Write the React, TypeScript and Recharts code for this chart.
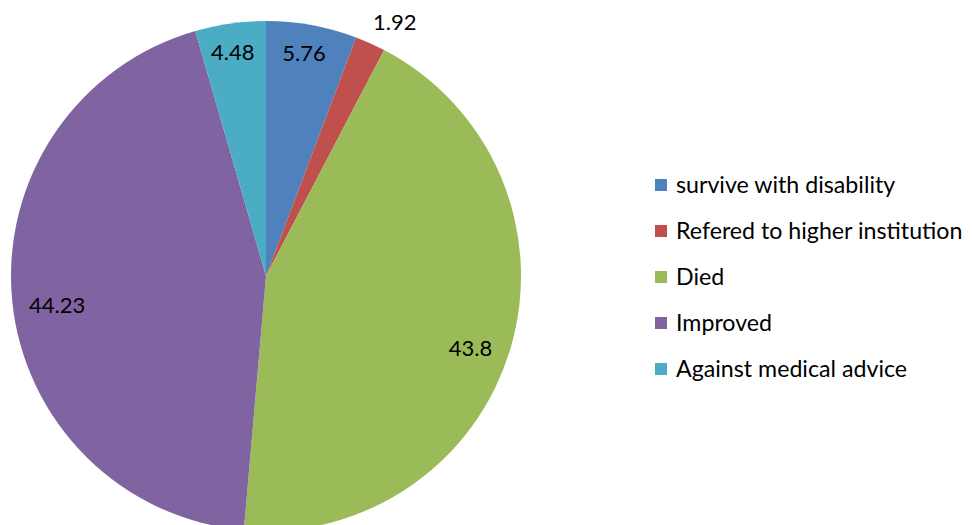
import React from "react";
import { PieChart, Pie, Cell, Legend } from "recharts";

const categories = [
  "survive with disability",
  "Refered to higher institution",
  "Died",
  "Improved",
  "Against medical advice",
];
const values = [5.76, 1.92, 43.8, 44.23, 4.48];
const colors = ["#4F81BD", "#C0504D", "#9BBB59", "#8064A2", "#4BACC6"];

const data = categories.map((name, i) => ({ name, value: values[i] }));

const FONT = "Lato, 'Open Sans', sans-serif";
const RAD = Math.PI / 180;
const labelRadius = [0.875, 1.12, 0.86, 0.835, 0.875];
const labelShiftX = [-2, 12, -6, 3, -2];
const labelShiftY = [-4, 6, 10, 8, -4];

const renderLabel = (props: any) => {
  const { cx, cy, midAngle, outerRadius, index, value } = props;
  const r = outerRadius * labelRadius[index];
  const x = cx + r * Math.cos(-midAngle * RAD) + labelShiftX[index];
  const y = cy + r * Math.sin(-midAngle * RAD) + labelShiftY[index];
  return (
    <text
      x={x}
      y={y}
      fill="#000"
      textAnchor="middle"
      dominantBaseline="central"
      fontFamily={FONT}
      fontSize={22}
    >
      {value}
    </text>
  );
};

const renderLegend = () => (
  <div style={{ fontFamily: FONT, fontSize: 23.2, color: "#000" }}>
    {categories.map((c, i) => (
      <div
        key={c}
        style={{ display: "flex", alignItems: "center", height: 46, whiteSpace: "nowrap" }}
      >
        <span
          style={{
            display: "inline-block",
            width: 12,
            height: 12,
            background: colors[i],
            marginRight: 9,
            marginTop: 2,
          }}
        />
        <span>{c}</span>
      </div>
    ))}
  </div>
);

export default function App() {
  return (
    <div style={{ width: 965, height: 517, position: "relative" }}>
      <PieChart width={965} height={517} style={{ overflow: "visible" }}>
        <Pie
          data={data}
          dataKey="value"
          nameKey="name"
          cx={253}
          cy={263}
          outerRadius={255}
          startAngle={90}
          endAngle={-270}
          stroke="none"
          label={renderLabel}
          labelLine={false}
          isAnimationActive={false}
        >
          {data.map((d, i) => (
            <Cell key={d.name} fill={colors[i]} />
          ))}
        </Pie>
        <Legend
          content={renderLegend}
          layout="vertical"
          wrapperStyle={{ position: "absolute", left: 647, top: 153, width: 330 }}
        />
      </PieChart>
    </div>
  );
}
